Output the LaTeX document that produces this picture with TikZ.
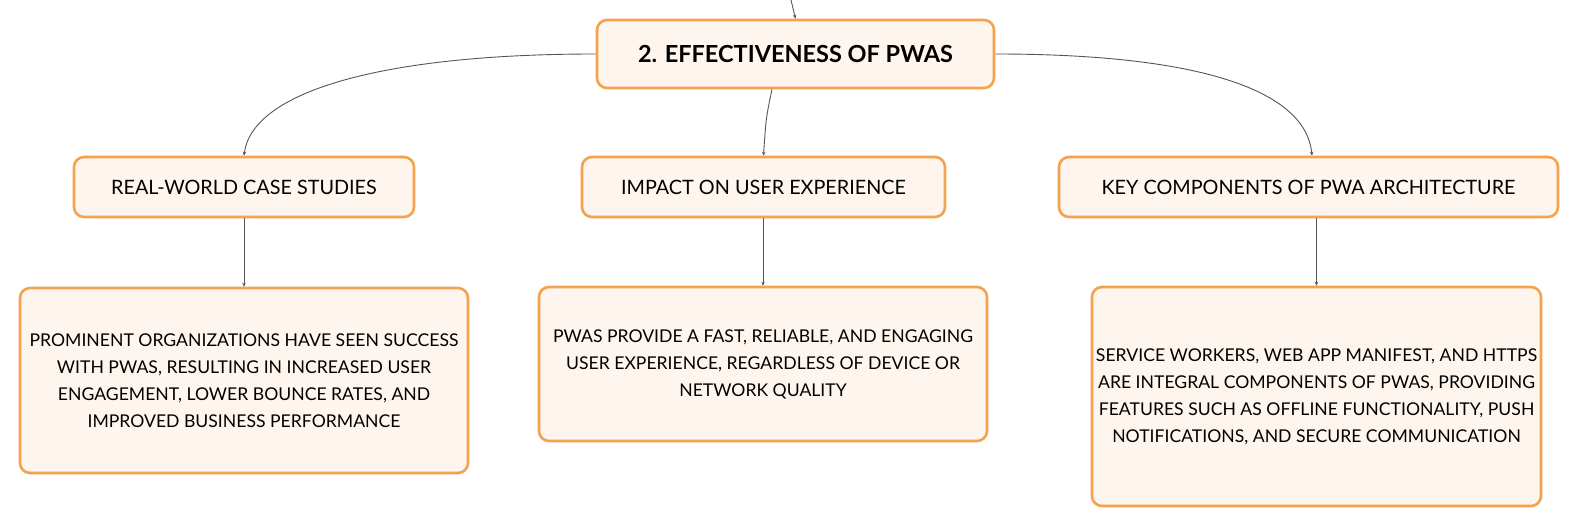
\documentclass[tikz,border=0pt]{standalone}
\usepackage{fontspec}
\setmainfont{Lato}
\usepackage{tikz}
\usepackage{xcolor}
\usetikzlibrary{arrows.meta}

\definecolor{boxline}{HTML}{F4A24E}
\definecolor{boxfill}{HTML}{FEF6EE}
\definecolor{linkgray}{HTML}{555555}

\tikzset{
    mapbox/.style={draw=boxline, fill=boxfill, line width=2.6pt, rounded corners=10pt,
        align=center, inner sep=0pt, text=black},
    rootbox/.style={mapbox, minimum width=397pt, minimum height=68pt,
        font=\fontsize{23.5}{27}\selectfont\bfseries},
    childbox/.style={mapbox, minimum height=60pt, font=\fontsize{19.8}{23}\selectfont},
    leafbox/.style={mapbox, minimum width=448pt, font=\fontsize{17.6}{27}\selectfont},
    link/.style={draw=linkgray, line width=0.9pt, -{Stealth[length=4pt,width=3.5pt]}}
}

\begin{document}
\begin{tikzpicture}[x=1pt,y=-1pt]
        \useasboundingbox (0,0) rectangle (1592,526);
        % Topic
        \node[rootbox] (effect) at (795.5,54) {2. EFFECTIVENESS OF PWAS};
        \coordinate (above) at (791,0);
        \draw[link] (above) -- (effect.north);
        % Subtopics
        \node[childbox, minimum width=340pt] (cases) at (244,187) {REAL-WORLD CASE STUDIES};
        \node[childbox, minimum width=363pt] (impact) at (763.5,187) {IMPACT ON USER EXPERIENCE};
        \node[childbox, minimum width=499pt] (arch) at (1308.5,187) {KEY COMPONENTS OF PWA ARCHITECTURE};
        \draw[link] (effect.west) .. controls (380,54) and (252,92) .. (cases.north);
        \draw[link] ([xshift=-23.5pt]effect.south) .. controls (766,118) .. (impact.north);
        \draw[link] (effect.east) .. controls (1205,54) and (1306,92) .. ([xshift=3.5pt]arch.north);
        % Details
        \node[leafbox, minimum height=185pt] (casesleaf) at (244,380.5) {PROMINENT ORGANIZATIONS HAVE SEEN SUCCESS\\
            WITH PWAS, RESULTING IN INCREASED USER\\
            ENGAGEMENT, LOWER BOUNCE RATES, AND\\
            IMPROVED BUSINESS PERFORMANCE};
        \node[leafbox, minimum height=154pt] (impactleaf) at (763,364) {PWAS PROVIDE A FAST, RELIABLE, AND ENGAGING\\
            USER EXPERIENCE, REGARDLESS OF DEVICE OR\\
            NETWORK QUALITY};
        \node[leafbox, minimum width=449pt, minimum height=219pt] (archleaf) at (1316.5,396.5) {SERVICE WORKERS, WEB APP MANIFEST, AND HTTPS\\
            ARE INTEGRAL COMPONENTS OF PWAS, PROVIDING\\
            FEATURES SUCH AS OFFLINE FUNCTIONALITY, PUSH\\
            NOTIFICATIONS, AND SECURE COMMUNICATION};
        \draw[link] (cases.south) -- (casesleaf.north);
        \draw[link] (impact.south -| impactleaf.north) -- (impactleaf.north);
        \draw[link] (arch.south -| archleaf.north) -- (archleaf.north);
    \end{tikzpicture}
\end{document}
